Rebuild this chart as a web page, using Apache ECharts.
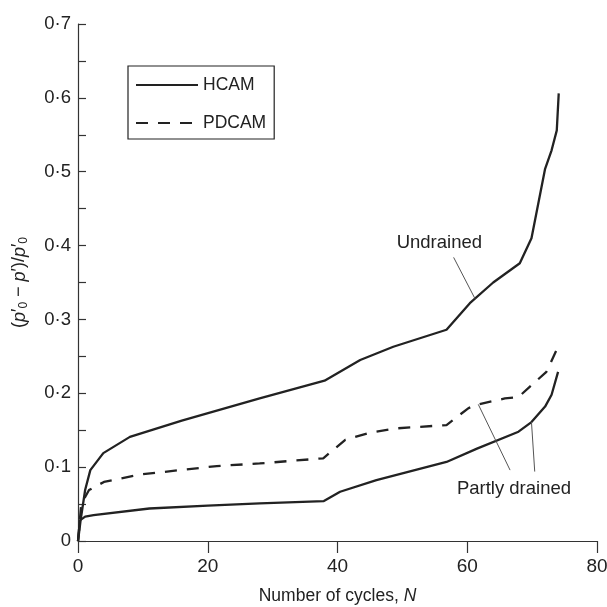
<!DOCTYPE html>
<html>
<head>
<meta charset="utf-8">
<script src="https://cdn.jsdelivr.net/npm/echarts@6/dist/echarts.min.js"></script>
<style>html,body{margin:0;padding:0;background:#fff}#c{width:607px;height:607px}</style>
</head>
<body>
<div id="c"></div>
<script>
// Data (N, (p0'-p')/p0')
const undrainedHCAM = [[0,0],[0.4,0.028],[1.1,0.069],[1.9,0.096],[3.9,0.119],[8,0.141],[16,0.163],[28,0.193],[38,0.217],[43.5,0.245],[48.6,0.263],[56.8,0.286],[60.4,0.322],[64,0.35],[68.1,0.376],[69.9,0.41],[72,0.504],[73,0.529],[73.8,0.556],[74.1,0.606]];
const partlyPDCAM = [[0,0],[0.5,0.05],[1.7,0.069],[4,0.08],[9.6,0.09],[21.4,0.1015],[28,0.105],[37.8,0.112],[41.2,0.137],[45,0.1466],[49.1,0.1525],[56.8,0.157],[60.2,0.18],[61.7,0.185],[65.8,0.193],[67.9,0.195],[72.2,0.229],[74,0.263]];
const partlyHCAM = [[0,0],[0.3,0.028],[1.1,0.033],[2.4,0.035],[11,0.044],[20,0.048],[28,0.051],[37.9,0.054],[40.4,0.0667],[46,0.0825],[56.8,0.107],[61.5,0.125],[67.9,0.148],[69.9,0.161],[72,0.182],[73,0.198],[74,0.229]];
// annotations
const undrainedLeader = [[57.9,0.384],[61.2,0.328]];
const partlyLeader1 = [[61.7,0.185],[66.6,0.096]];
const partlyLeader2 = [[69.9,0.161],[70.4,0.094]];
const labelPoints = [{name:'Undrained', value:[55.7,0.404]}, {name:'Partly drained', value:[67.2,0.0704]}];
const xTicks = [0,20,40,60,80];
const yTicks = [0,0.1,0.2,0.3,0.4,0.5,0.6,0.7];

const chart = echarts.init(document.getElementById('c'), null, {renderer:'canvas'});
const ink = '#222';
const font = 'Liberation Sans, Arial, sans-serif';
function dataLine(name, data, dashed){
  return {type:'line', name, data, symbol:'none', smooth:false, silent:true,
    lineStyle:{color:ink, width:2.3, type: dashed ? [12,10] : 'solid'}, itemStyle:{color:ink}};
}
function leader(data){
  return {type:'line', data, symbol:'none', silent:true, lineStyle:{color:'#555', width:1}};
}
const rt = {fontSize:18, color:ink, fontFamily:font};
const ri = {fontSize:18, color:ink, fontFamily:font, fontStyle:'italic'};
const rs = {fontSize:12, color:ink, fontFamily:font, padding:[9,0,0,0]};
chart.setOption({
  animation:false,
  backgroundColor:'#fff',
  textStyle:{fontFamily:font},
  grid:{left:78, right:10, top:24, bottom:66, containLabel:false, outerBoundsMode:'none'},
  legend:{
    data:['HCAM','PDCAM'], orient:'vertical', left:128, top:66,
    width:139, padding:[10,8,7,7], itemGap:20, itemWidth:62, itemHeight:14,
    borderColor:ink, borderWidth:1.2, borderRadius:0,
    itemStyle:{opacity:0},
    textStyle:{fontSize:17.5, color:ink, fontFamily:font}
  },
  xAxis:{
    type:'value', min:xTicks[0], max:xTicks[xTicks.length-1], interval:20,
    name:'{n|Number of cycles, }{i|N}', nameLocation:'middle', nameGap:46,
    nameTextStyle:{rich:{n:{fontSize:17.5,color:ink,fontFamily:font}, i:{fontSize:17.5,color:ink,fontStyle:'italic',fontFamily:font}}},
    axisLine:{lineStyle:{color:'#333', width:1.2}},
    axisTick:{inside:false, length:12, lineStyle:{color:'#333', width:1.2}},
    axisLabel:{fontSize:19, color:ink, margin:16, fontFamily:font},
    splitLine:{show:false}
  },
  yAxis:{
    type:'value', min:yTicks[0], max:yTicks[yTicks.length-1], interval:0.1,
    name:'{t|(}{i|p}{t|′}{s|0}{t| − }{i|p}{t|′)/}{i|p}{t|′}{s|0}', nameLocation:'middle', nameGap:48, nameRotate:90,
    nameTextStyle:{rich:{t:rt, i:ri, s:rs}},
    axisLine:{show:true, lineStyle:{color:'#333', width:1.2}},
    axisTick:{inside:true, length:8, lineStyle:{color:'#333', width:1.2}},
    minorTick:{show:true, splitNumber:2, length:8, lineStyle:{color:'#333', width:1.2}},
    axisLabel:{fontSize:18.5, color:ink, margin:7, fontFamily:font,
      formatter:v => v === 0 ? '0' : v.toFixed(1).replace('.', '·')},
    splitLine:{show:false}
  },
  series:[
    dataLine('HCAM', undrainedHCAM, false),
    dataLine('HCAM', partlyHCAM, false),
    dataLine('PDCAM', partlyPDCAM, true),
    leader(undrainedLeader), leader(partlyLeader1), leader(partlyLeader2),
    {type:'scatter', data:labelPoints, symbolSize:0, silent:true, itemStyle:{opacity:1},
     label:{show:true, position:'inside', formatter:p=>p.name, fontSize:18.5, color:ink, opacity:1, fontFamily:font}}
  ]
});
</script>
</body>
</html>
